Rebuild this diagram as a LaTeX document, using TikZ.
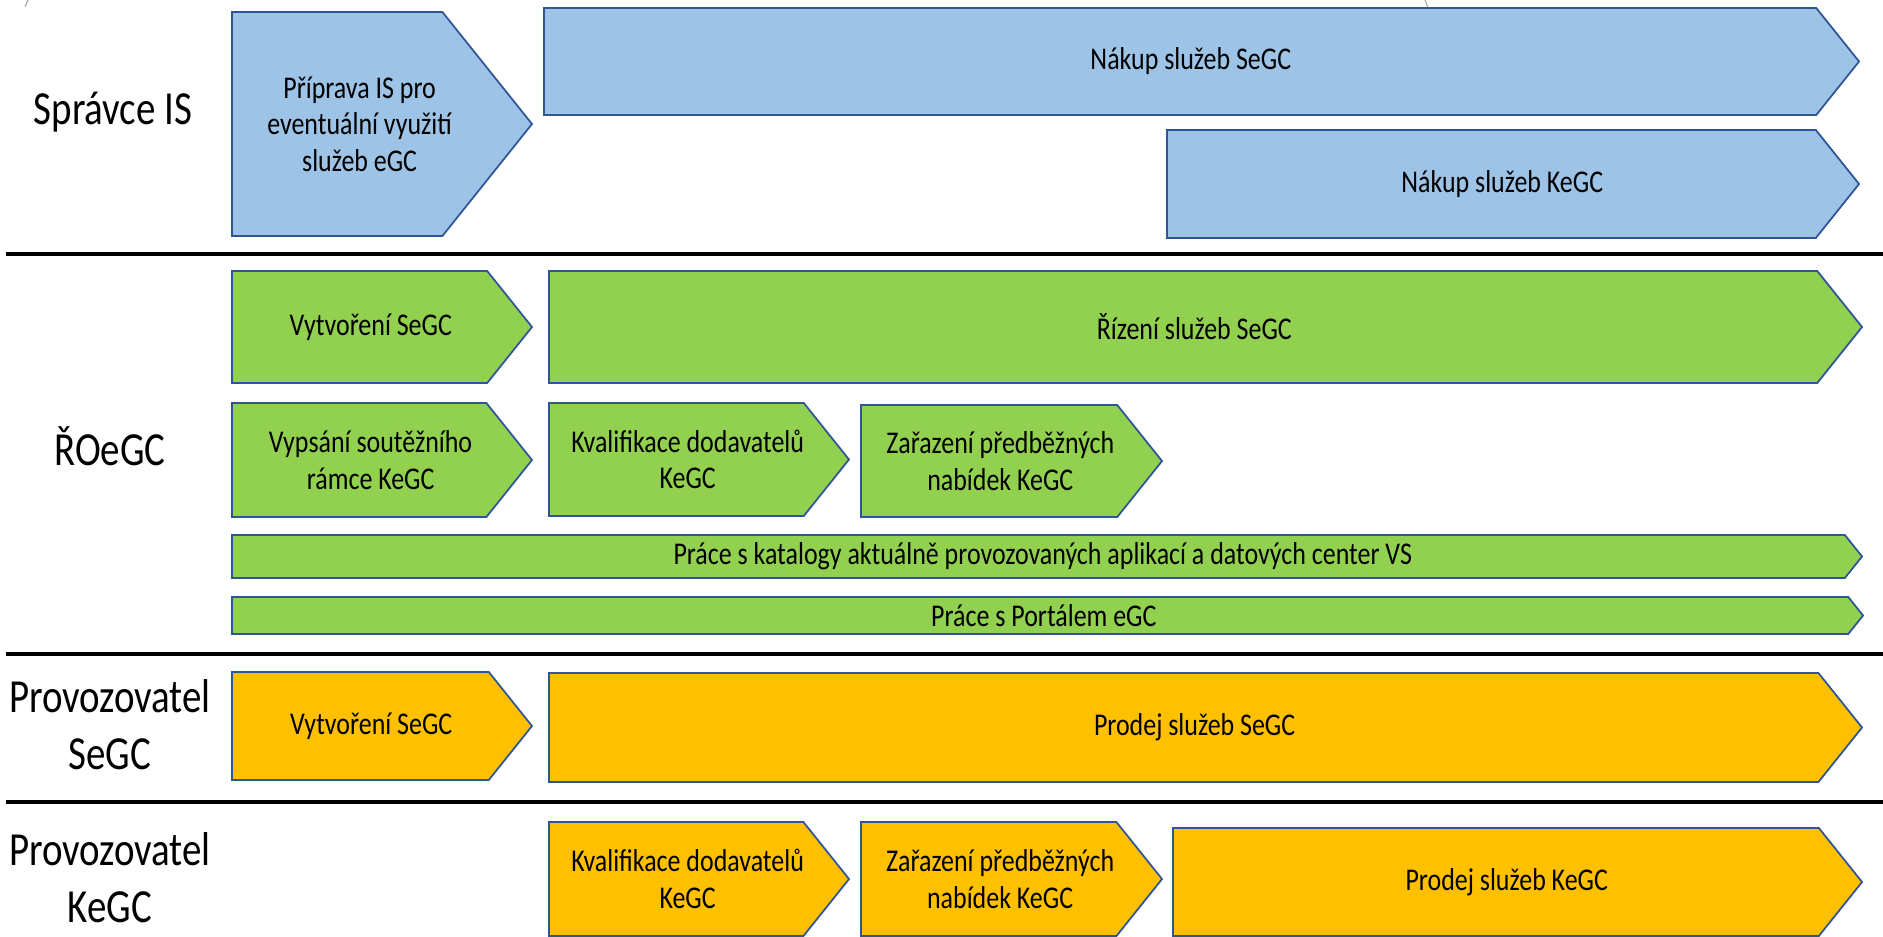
\documentclass[tikz,border=0pt]{standalone}
\usepackage{fontspec}
\setmainfont{Carlito}[FakeStretch=0.82]
\usetikzlibrary{calc}
\definecolor{chevblue}{HTML}{9DC3E6}
\definecolor{chevgreen}{HTML}{92D050}
\definecolor{chevorange}{HTML}{FFC000}
\definecolor{chevedge}{HTML}{2F5597}
\def\chevron[#1](#2,#3)(#4,#5)#6#7{%
	\draw[#1] (#2,#3) -- ({#4-0.4*(#5-#3)},#3) -- (#4,{(#3+#5)/2}) -- ({#4-0.4*(#5-#3)},#5) -- (#2,#5) -- cycle;
	\node[boxtext] (#6) at ({(#2+#4-0.2*(#5-#3))/2},{(#3+#5)/2}) {#7};}

\begin{document}
\begin{tikzpicture}[x=0.01cm, y=-0.01cm,
		boxtext/.style={font=\fontsize{9}{10.4}\selectfont, align=center, inner sep=0pt},
		lanetext/.style={font=\fontsize{13.5}{16.2}\selectfont, align=center, inner sep=0pt},
		lane/.style={line width=1pt, color=black},
		chevbluebox/.style={line width=0.5pt, draw=chevedge, fill=chevblue},
		chevgreenbox/.style={line width=0.5pt, draw=chevedge, fill=chevgreen},
		chevorangebox/.style={line width=0.5pt, draw=chevedge, fill=chevorange}]
		%%%%% START %%%%%
		\useasboundingbox (0,0) rectangle (1883,937);
		
		\draw[line width=0.3pt, color=black!35] (25,7) -- (28,0);
		\draw[line width=0.3pt, color=black!35] (1425,0) -- (1428,8);
		
		% lane separators
		\draw[lane] (6,254) -- (1883,254);
		\draw[lane] (6,654) -- (1883,654);
		\draw[lane] (6,802) -- (1883,802);
		
		% lane titles
		\node[lanetext, anchor=base] (spravce) at (113,125) {Správce IS};
		\node[lanetext, anchor=base] (roegc) at (110,465) {ŘOeGC};
		\node[lanetext] (provsegc) at (110,725) {Provozovatel\\SeGC};
		\node[lanetext] (provkegc) at (110,878) {Provozovatel\\KeGC};
		
		% Spravce IS
		\chevron[chevbluebox](232,12)(532,236){priprava}{Příprava IS pro\\eventuální využití\\služeb eGC}
		\chevron[chevbluebox](544,8)(1859,115){nakupsegc}{Nákup služeb SeGC}
		\chevron[chevbluebox](1167,130)(1859,238){nakupkegc}{Nákup služeb KeGC}
		
		% ROeGC
		\chevron[chevgreenbox](232,271)(532,383){vytvorenig}{Vytvoření SeGC}
		\chevron[chevgreenbox](549,271)(1862,383){rizeni}{Řízení služeb SeGC}
		\chevron[chevgreenbox](232,403)(532,517){vypsani}{Vypsání soutěžního\\rámce KeGC}
		\chevron[chevgreenbox](549,403)(849,516){kvalifikaceg}{Kvalifikace dodavatelů\\KeGC}
		\chevron[chevgreenbox](861,405)(1162,517){zarazenig}{Zařazení předběžných\\nabídek KeGC}
		\chevron[chevgreenbox](232,535)(1862,578){katalogy}{Práce s katalogy aktuálně provozovaných aplikací a datových center VS}
		\chevron[chevgreenbox](232,597)(1863,634){portal}{Práce s Portálem eGC}
		
		% Provozovatel SeGC
		\chevron[chevorangebox](232,672)(532,780){vytvorenio}{Vytvoření SeGC}
		\chevron[chevorangebox](549,673)(1862,782){prodejsegc}{Prodej služeb SeGC}
		
		% Provozovatel KeGC
		\chevron[chevorangebox](549,822)(849,936){kvalifikaceo}{Kvalifikace dodavatelů\\KeGC}
		\chevron[chevorangebox](861,822)(1162,936){zarazenio}{Zařazení předběžných\\nabídek KeGC}
		\chevron[chevorangebox](1173,828)(1862,936){prodejkegc}{Prodej služeb KeGC}
		
		%%%%% END %%%%%
\end{tikzpicture}
\end{document}
